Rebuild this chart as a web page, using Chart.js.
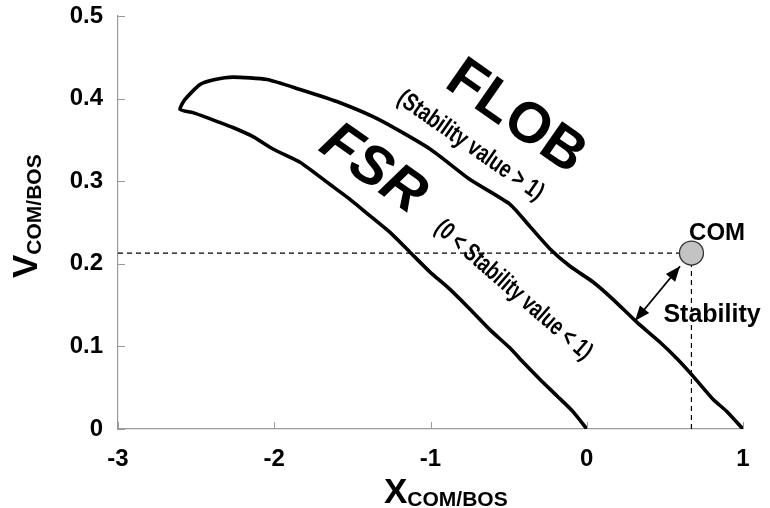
<!DOCTYPE html>
<html>
<head>
<meta charset="utf-8">
<script src="https://cdn.jsdelivr.net/npm/chart.js@4.4.1/dist/chart.umd.min.js"></script>
<style>
  body { margin: 0; background: #fff; }
  #wrap { width: 770px; height: 508px; }
</style>
</head>
<body>
<div id="wrap"><canvas id="stabChart" width="770" height="508"></canvas></div>
<script>
// boundary of the feasible stability region (inner edge -> tip -> outer edge)
const boundaryX = [0.0, -0.088, -0.19, -0.299, -0.408, -0.491, -0.619, -0.747, -0.875, -1.003,
    -1.131, -1.259, -1.387, -1.515, -1.643, -1.835, -2.008, -2.136, -2.264, -2.347, -2.52, -2.603,
    -2.571, -2.475, -2.379, -2.264, -2.046, -1.835, -1.579, -1.323, -1.003, -0.747, -0.491, -0.363,
    -0.235, -0.107, 0.04, 0.168, 0.322, 0.469, 0.578, 0.68, 0.808, 0.898, 1.0];
const boundaryY = [0.0, 0.021, 0.04, 0.06, 0.081, 0.098, 0.12, 0.145, 0.169, 0.19,
    0.214, 0.238, 0.258, 0.278, 0.296, 0.323, 0.339, 0.354, 0.365, 0.371, 0.383, 0.387,
    0.399, 0.417, 0.423, 0.426, 0.423, 0.411, 0.395, 0.374, 0.339, 0.302, 0.272, 0.245,
    0.218, 0.197, 0.178, 0.157, 0.129, 0.105, 0.085, 0.064, 0.036, 0.021, 0.0];

// centre of mass point
const comX = 0.67;
const comY = 0.213;

// stability arrow (boundary end -> COM end)
const arrowX = [0.309, 0.597];
const arrowY = [0.131, 0.197];

const xTicks = [-3, -2, -1, 0, 1];
const yTicks = [0, 0.1, 0.2, 0.3, 0.4, 0.5];

const FONT = "'Liberation Sans', Arial, sans-serif";

// text written on the plot, placed in data units
const notes = [
    { text: 'FLOB', x: -0.455, y: 0.377, angle: 35, font: '900 57px ' + FONT, squeeze: 1 },
    { text: '(Stability value > 1)', x: -0.745, y: 0.343, angle: 35, font: 'bold 25px ' + FONT, squeeze: 0.76 },
    { text: 'FSR', x: -1.37, y: 0.314, angle: 35, font: 'italic 900 57px ' + FONT, squeeze: 1 },
    { text: '(0 < Stability value < 1)', x: -0.47, y: 0.168, angle: 41, font: 'bold 25px ' + FONT, squeeze: 0.74 },
    { text: 'COM', x: 0.834, y: 0.237, angle: 0, font: 'bold 24px ' + FONT, squeeze: 1 },
    { text: 'Stability', x: 0.802, y: 0.138, angle: 0, font: 'bold 25px ' + FONT, squeeze: 1 }
];

const toPoints = (xs, ys) => xs.map((x, i) => ({ x: x, y: ys[i] }));

// inward tick marks, arrow heads, annotations and axis titles with subscripts
const extrasPlugin = {
    id: 'extras',
    afterDatasetsDraw(chart) {
        const ctx = chart.ctx;
        const xs = chart.scales.x, ys = chart.scales.y;
        const area = chart.chartArea;

        // arrow heads at both ends of the stability arrow
        const p0 = { x: xs.getPixelForValue(arrowX[0]), y: ys.getPixelForValue(arrowY[0]) };
        const p1 = { x: xs.getPixelForValue(arrowX[1]), y: ys.getPixelForValue(arrowY[1]) };
        const head = (tip, from) => {
            const a = Math.atan2(tip.y - from.y, tip.x - from.x);
            const len = 15, half = 6;
            ctx.beginPath();
            ctx.moveTo(tip.x, tip.y);
            ctx.lineTo(tip.x - len * Math.cos(a) + half * Math.sin(a), tip.y - len * Math.sin(a) - half * Math.cos(a));
            ctx.lineTo(tip.x - len * Math.cos(a) - half * Math.sin(a), tip.y - len * Math.sin(a) + half * Math.cos(a));
            ctx.closePath();
            ctx.fill();
        };
        ctx.save();
        ctx.fillStyle = '#000';
        head(p0, p1);
        head(p1, p0);
        ctx.restore();

        // text on the plot
        notes.forEach(n => {
            ctx.save();
            ctx.translate(xs.getPixelForValue(n.x), ys.getPixelForValue(n.y));
            ctx.rotate(n.angle * Math.PI / 180);
            ctx.scale(n.squeeze, 1);
            ctx.font = n.font;
            ctx.fillStyle = '#000';
            ctx.textAlign = 'center';
            ctx.textBaseline = 'middle';
            ctx.fillText(n.text, 0, 0);
            ctx.restore();
        });

        // small ticks pointing into the plot
        ctx.save();
        ctx.strokeStyle = '#9a9a9a';
        ctx.lineWidth = 1;
        xTicks.forEach(v => {
            const px = Math.round(xs.getPixelForValue(v)) + 0.5;
            ctx.beginPath();
            ctx.moveTo(px, area.bottom);
            ctx.lineTo(px, area.bottom - 7);
            ctx.stroke();
        });
        yTicks.forEach(v => {
            const py = Math.round(ys.getPixelForValue(v)) + 0.5;
            ctx.beginPath();
            ctx.moveTo(area.left, py);
            ctx.lineTo(area.left + 7, py);
            ctx.stroke();
        });
        ctx.restore();
    },
    afterDraw(chart) {
        const ctx = chart.ctx;
        ctx.save();
        ctx.fillStyle = '#000';
        ctx.textAlign = 'left';
        ctx.textBaseline = 'alphabetic';

        // x axis title
        ctx.font = 'bold 35px ' + FONT;
        ctx.fillText('X', 384, 503);
        let w = ctx.measureText('X').width;
        ctx.font = 'bold 21px ' + FONT;
        ctx.fillText('COM/BOS', 384 + w, 506);

        // y axis title
        ctx.translate(37, 278);
        ctx.rotate(-Math.PI / 2);
        ctx.font = 'bold 35px ' + FONT;
        ctx.fillText('V', 0, 0);
        w = ctx.measureText('V').width;
        ctx.font = 'bold 21px ' + FONT;
        ctx.fillText('COM/BOS', w, 4);
        ctx.restore();
    }
};

const tickFont = { family: FONT, size: 24, weight: 'bold' };

new Chart(document.getElementById('stabChart').getContext('2d'), {
    type: 'scatter',
    data: {
        datasets: [
            {
                // COM marker
                data: [{ x: comX, y: comY }],
                pointRadius: 12,
                pointBackgroundColor: '#c3c3c3',
                pointBorderColor: '#333',
                pointBorderWidth: 1.3,
                order: 0
            },
            {
                data: toPoints(boundaryX, boundaryY),
                showLine: true,
                borderColor: '#000',
                borderWidth: 3.6,
                pointRadius: 0,
                tension: 0.2,
                order: 1
            },
            {
                // horizontal dashed guide
                data: [{ x: -3, y: comY }, { x: comX, y: comY }],
                showLine: true,
                borderColor: '#000',
                borderWidth: 1.2,
                borderDash: [5, 4],
                pointRadius: 0,
                order: 2
            },
            {
                // vertical dashed guide
                data: [{ x: comX, y: comY }, { x: comX, y: 0 }],
                showLine: true,
                borderColor: '#000',
                borderWidth: 1.2,
                borderDash: [5, 4],
                pointRadius: 0,
                order: 2
            },
            {
                // stability arrow shaft
                data: toPoints(arrowX, arrowY),
                showLine: true,
                borderColor: '#000',
                borderWidth: 1.8,
                pointRadius: 0,
                order: 1
            }
        ]
    },
    options: {
        responsive: false,
        animation: false,
        layout: { padding: { top: 16, right: 27, left: 0, bottom: 0 } },
        plugins: { legend: { display: false }, tooltip: { enabled: false } },
        scales: {
            x: {
                type: 'linear',
                min: -3,
                max: 1,
                ticks: { stepSize: 1, color: '#000', font: tickFont, padding: 16, maxRotation: 0 },
                grid: { drawOnChartArea: false, drawTicks: false },
                border: { color: '#9a9a9a', width: 1.2 },
                afterFit: s => { s.height = 79; s.paddingLeft = 0; s.paddingRight = 0; }
            },
            y: {
                type: 'linear',
                min: 0,
                max: 0.5,
                ticks: { stepSize: 0.1, color: '#000', font: tickFont, padding: 15 },
                grid: { drawOnChartArea: false, drawTicks: false },
                border: { color: '#9a9a9a', width: 1.2 },
                afterFit: s => { s.width = 118; s.paddingTop = 0; s.paddingBottom = 0; }
            }
        }
    },
    plugins: [extrasPlugin]
});
</script>
</body>
</html>
